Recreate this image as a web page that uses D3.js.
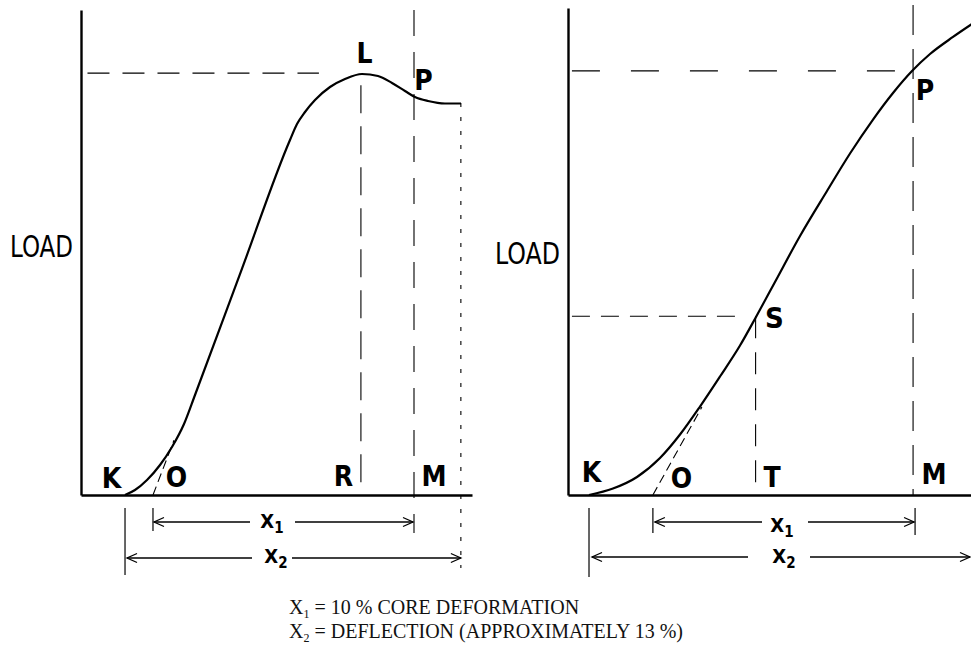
<!DOCTYPE html>
<html>
<head>
<meta charset="utf-8">
<script src="https://cdn.jsdelivr.net/npm/d3@7"></script>
<style>
  html, body { margin: 0; padding: 0; background: #fff; }
  svg { display: block; }
  .lbl { font-family: "DejaVu Sans Condensed", "DejaVu Sans", sans-serif; font-weight: bold; fill: #000; }
  .load { font-family: "DejaVu Sans Condensed", "DejaVu Sans", sans-serif; font-weight: normal; fill: #000; }
  .cap { font-family: "Liberation Serif", "Times New Roman", serif; fill: #111; }
</style>
</head>
<body>
<script>
// ---------- DATA (deflection in %, load in % of axis height) ----------
// Left panel: material with a yield point (L) before 10 % deformation
const leftDeflection = [1.699, 2.085, 2.549, 3.051, 3.514, 3.978, 4.403, 6.218, 8.071, 8.342, 8.651, 9.037, 9.616, 10.195, 10.852, 11.470, 12.011, 12.512, 12.899, 13.401, 14.057, 14.675];
const leftLoad       = [0.00, 1.03, 3.09, 6.19, 9.90, 14.64, 20.62, 46.68, 73.20, 76.49, 78.97, 81.44, 84.12, 85.77, 86.80, 86.39, 84.95, 83.30, 82.06, 81.24, 80.72, 80.72];
const leftTangentDeflection = [2.78, 3.59];
const leftTangentLoad       = [0, 11.3];
// key abscissae: K (toe), O (corrected zero), R (yield), M (10 % point), end of X2
const leftKeyNames = ["K", "O", "R", "M", "E"];
const leftKeyDeflection = [1.70, 2.78, 10.81, 12.86, 14.67];
const leftPeakLoad = 87.0;      // L
const leftEndLoad = 80.8;

// Right panel: material without yield point
const rightDeflection = [0.801, 1.717, 2.634, 3.511, 4.275, 5.038, 5.801, 6.565, 7.175, 7.900, 8.855, 9.885, 10.763, 11.641, 12.404, 13.129, 13.816, 14.694, 15.419];
const rightLoad       = [0.00, 1.33, 3.70, 7.60, 12.42, 18.17, 24.33, 30.70, 36.55, 43.74, 53.18, 62.42, 70.12, 77.10, 82.55, 87.06, 90.55, 94.05, 96.71];
const rightTangentDeflection = [3.24, 5.11];
const rightTangentLoad       = [0, 18.07];
const rightKeyNames = ["K", "O", "T", "M"];
const rightKeyDeflection = [0.84, 3.24, 7.16, 13.17];
const rightSLoad = 36.7;        // S
const rightPLoad = 87.1;        // P

const captionLines = [
  {sub: "1", text: " = 10 % CORE DEFORMATION"},
  {sub: "2", text: " = DEFLECTION (APPROXIMATELY 13 %)"}
];

// ---------- DRAWING ----------
const W = 971, H = 649;
const svg = d3.select("body").append("svg").attr("width", W).attr("height", H);
svg.append("rect").attr("width", W).attr("height", H).attr("fill", "#fff");

const xL = d3.scaleLinear().domain([0, 15.1]).range([81, 472]);
const yL = d3.scaleLinear().domain([0, 100]).range([495, 10]);
const xR = d3.scaleLinear().domain([0, 15.4]).range([568, 971.5]);
const yR = d3.scaleLinear().domain([0, 100]).range([495, 8]);

const zip = (xs, ys) => xs.map((x, i) => ({x, y: ys[i]}));

function seg(g, x1, y1, x2, y2, w, dash) {
  const l = g.append("line").attr("x1", x1).attr("y1", y1).attr("x2", x2).attr("y2", y2)
    .attr("stroke", "#000").attr("stroke-width", w);
  if (dash) l.attr("stroke-dasharray", dash);
  return l;
}
function arrowHead(g, xTip, y, dir) {
  g.append("path")
    .attr("d", `M${xTip - dir * 10},${y - 4.5} L${xTip},${y} L${xTip - dir * 10},${y + 4.5}`)
    .attr("fill", "none").attr("stroke", "#000").attr("stroke-width", 1.3);
}
function label(g, x, y, t, size, anchor) {
  return g.append("text").attr("class", "lbl").attr("x", x).attr("y", y)
    .attr("font-size", size).attr("text-anchor", anchor || "middle").text(t);
}
function xLabel(g, x, y, sub) {
  const t = g.append("text").attr("class", "lbl").attr("x", x).attr("y", y)
    .attr("font-size", 20).attr("text-anchor", "middle");
  t.append("tspan").text("X");
  t.append("tspan").attr("font-size", 15).attr("dy", 5).text(sub);
}
function dimArrow(g, xa, xb, y, gapA, gapB) {
  seg(g, xa, y, gapA, y, 1.3);
  seg(g, gapB, y, xb, y, 1.3);
  arrowHead(g, xa, y, -1);
  arrowHead(g, xb, y, 1);
}

function panel(x, y, curveData, tangentData) {
  const g = svg.append("g");
  g.append("g").attr("transform", `translate(0,${y(0)})`)
    .call(d3.axisBottom(x).tickValues([]).tickSizeOuter(0))
    .select(".domain").attr("stroke", "#000").attr("stroke-width", 2.6);
  g.append("g").attr("transform", `translate(${x(0)},0)`)
    .call(d3.axisLeft(y).tickValues([]).tickSizeOuter(0))
    .select(".domain").attr("stroke", "#000").attr("stroke-width", 2.4);
  const line = d3.line().x(d => x(d.x)).y(d => y(d.y));
  g.append("path").datum(tangentData).attr("d", line)
    .attr("fill", "none").attr("stroke", "#000").attr("stroke-width", 1.1).attr("stroke-dasharray", "9,5");
  g.append("path").datum(curveData)
    .attr("d", d3.line().x(d => x(d.x)).y(d => y(d.y)).curve(d3.curveMonotoneX))
    .attr("fill", "none").attr("stroke", "#000").attr("stroke-width", 2.2);
  return g;
}

// ---- Left panel ----
const gL = panel(xL, yL, zip(leftDeflection, leftLoad), zip(leftTangentDeflection, leftTangentLoad));
const [lK, lO, lR, lM, lE] = leftKeyDeflection.map(v => xL(v));
seg(gL, xL(0.25), yL(leftPeakLoad), lR - 42, yL(leftPeakLoad), 1.2, "22,13");
seg(gL, lR, yL(leftPeakLoad - 2.5), lR, yL(0), 1.1, "28,13");
seg(gL, lM, yL(100), lM, yL(0) + 38, 1.1, "26,16");
seg(gL, lE, yL(leftEndLoad), lE, yL(0) + 73, 1.1, "4,10");
seg(gL, lK, yL(0) + 13, lK, yL(0) + 80, 1.2);
seg(gL, lO, yL(0) + 13, lO, yL(0) + 36, 1.2);
dimArrow(gL, lO + 1, lM - 1, yL(0) + 27, 250, 295);
dimArrow(gL, lK + 2, lE, yL(0) + 63, 252, 292);
xLabel(gL, 272, 528, "1");
xLabel(gL, 276, 563, "2");
label(gL, 111.5, 488, "K", 28);
label(gL, 176.5, 487, "O", 28);
label(gL, 343.5, 486, "R", 28);
label(gL, 434, 486, "M", 28);
label(gL, 364.5, 63, "L", 28);
label(gL, 423.5, 90, "P", 28);
gL.append("text").attr("class", "load").attr("x", 10).attr("y", 257).attr("font-size", 30)
  .attr("textLength", 63).attr("lengthAdjust", "spacingAndGlyphs").text("LOAD");

// ---- Right panel ----
const gR = panel(xR, yR, zip(rightDeflection, rightLoad), zip(rightTangentDeflection, rightTangentLoad));
const [rK, rO, rT, rM] = rightKeyDeflection.map(v => xR(v));
seg(gR, xR(0.15), yR(rightPLoad), rM - 10, yR(rightPLoad), 1.2, "28,31");
seg(gR, xR(0.15), yR(rightSLoad), rT - 14, yR(rightSLoad), 1.2, "18,11");
seg(gR, rM, yR(100.6), rM, yR(0), 1.1, "30,14");
seg(gR, rT, yR(rightSLoad), rT, yR(0), 1.1, "22,14");
seg(gR, rK - 1, yR(0) + 13, rK - 1, yR(0) + 82, 1.2);
seg(gR, rO, yR(0) + 13, rO, yR(0) + 38, 1.2);
seg(gR, rM + 2, yR(0) + 13, rM + 2, yR(0) + 40, 1.2);
dimArrow(gR, rO + 2, rM + 1, yR(0) + 27, 762, 808);
dimArrow(gR, rK + 2, 970, yR(0) + 62, 748, 810);
xLabel(gR, 782, 532, "1");
xLabel(gR, 784, 563, "2");
label(gR, 591.5, 482, "K", 28);
label(gR, 681.5, 488, "O", 28);
label(gR, 772, 487, "T", 28);
label(gR, 934, 484, "M", 28);
label(gR, 774.5, 328, "S", 29);
label(gR, 925, 100, "P", 28);
gR.append("text").attr("class", "load").attr("x", 495).attr("y", 264).attr("font-size", 31)
  .attr("textLength", 65).attr("lengthAdjust", "spacingAndGlyphs").text("LOAD");

// ---- Caption ----
captionLines.forEach((c, i) => {
  const t = svg.append("text").attr("class", "cap").attr("x", 289).attr("y", 614 + i * 24).attr("font-size", 20);
  t.append("tspan").text("X");
  t.append("tspan").attr("font-size", 12).attr("dy", 4).text(c.sub);
  t.append("tspan").attr("dy", -4).text(c.text);
});
</script>
</body>
</html>
